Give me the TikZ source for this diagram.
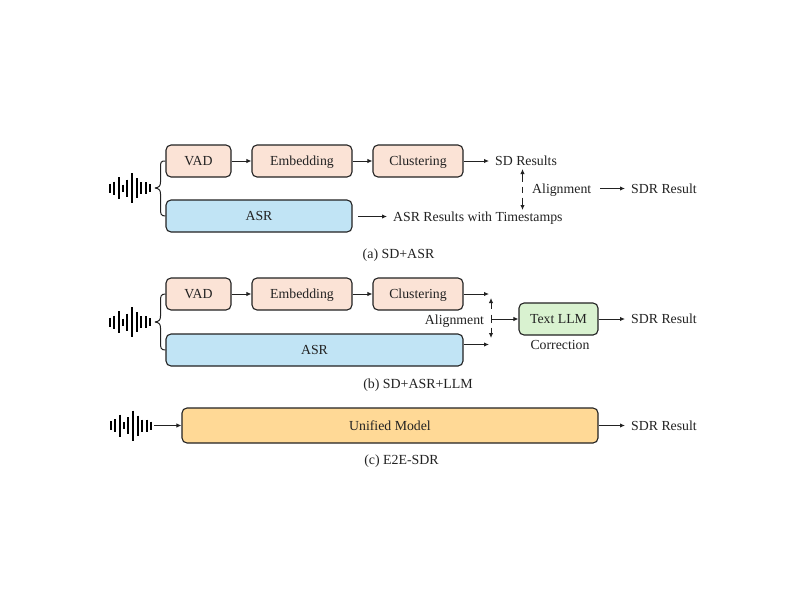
\documentclass[tikz,border=0pt]{standalone}
\usepackage{fontspec}
\setmainfont{Liberation Serif}
\usetikzlibrary{arrows.meta}
\definecolor{peach}{HTML}{FBE3D6}
\definecolor{skyb}{HTML}{C1E4F5}
\definecolor{lgreen}{HTML}{D9F2D0}
\definecolor{orng}{HTML}{FFD996}
\definecolor{ink}{HTML}{222222}
\tikzset{
  blk/.style={draw=ink,line width=1.1pt,rounded corners=5pt,inner sep=0pt,font=\fontsize{13.8}{15}\selectfont,text=ink,text height=10pt,text depth=0.4pt},
  pch/.style={blk,fill=peach,minimum height=32pt},
  sky/.style={blk,fill=skyb,minimum height=32pt},
  lbl/.style={inner sep=0pt,font=\fontsize{13.8}{15}\selectfont,text=ink,text height=10pt,text depth=0.4pt},
  captxt/.style={inner sep=0pt,font=\fontsize{13.9}{15}\selectfont,text=ink,text height=10pt,text depth=0.4pt},
  arr/.style={draw=ink,line width=1pt,-{Latex[length=5pt,width=4.5pt]}},
  arrtxt/.style={arr,shorten >=6pt},
  dbl/.style={draw=ink,line width=1pt,{Latex[length=5pt,width=4.5pt]}-{Latex[length=5pt,width=4.5pt]}},
  brc/.style={draw=ink,line width=1pt},
  bar/.style={draw=black,line width=2pt},
  wave/.pic={
    \foreach \x/\h in {0/4.5,4.3/6.5,8.6/11,13/3.5,17.3/8.5,22/15,26.5/10,31/6,35.5/6,40/4}
      \draw[bar] (\x,-\h) -- (\x,\h);
  }
}
\begin{document}
\begin{tikzpicture}[x=1pt,y=-1pt]
\useasboundingbox (0,0) rectangle (800,600);
\fill[white] (0,0) rectangle (800,600);

% (a)
\pic at (110,188) {wave};
\node[pch,minimum width=65pt] (vada) at (198.5,161) {VAD};
\node[pch,minimum width=100pt] (emba) at (302,161) {Embedding};
\node[pch,minimum width=90pt] (clua) at (418,161) {Clustering};
\node[sky,minimum width=186pt] (asra) at (259,216) {ASR};
\coordinate (tipa) at (155,188);
\coordinate (asrstarta) at (358,216.5);
\node[lbl,anchor=west] (sdres) at (495,161) {SD Results};
\node[lbl,anchor=west] (asrres) at (393,216.5) {ASR Results with Timestamps};
\node[lbl,anchor=west] (alia) at (532,188.5) {Alignment};
\node[lbl,anchor=west] (sdra) at (631,188.5) {SDR Result};
\node[captxt] (capa) at (398.5,254) {(a) SD+ASR};
\coordinate (ua) at (522.5,169);
\coordinate (da) at (522.5,210);
\draw[dbl,dash pattern=on 8pt off 5pt on 6pt off 5pt on 20pt] (ua) -- (da);
\draw[arr] (vada) -- (emba);
\draw[arr] (emba) -- (clua);
\draw[arrtxt] (clua) -- (sdres);
\draw[arrtxt] (asrstarta) -- (asrres);
\coordinate (alae) at (600,188.5);
\draw[arrtxt] (alae) -- (sdra);
\draw[brc] (vada.west) .. controls (161,161) and (160.5,162) .. (160.5,167) -- (160.5,182) .. controls (160.5,186) and (159,187.5) .. (tipa);
\draw[brc] (asra.west) .. controls (161,216) and (160.5,214) .. (160.5,209) -- (160.5,194) .. controls (160.5,190) and (159,188.5) .. (tipa);

% (b)
\pic at (110,322) {wave};
\node[pch,minimum width=65pt] (vadb) at (198.5,294) {VAD};
\node[pch,minimum width=100pt] (embb) at (302,294) {Embedding};
\node[pch,minimum width=90pt] (club) at (418,294) {Clustering};
\node[sky,minimum width=297pt] (asrb) at (314.5,350) {ASR};
\node[blk,fill=lgreen,minimum width=79pt,minimum height=32pt] (llm) at (558.5,319) {Text LLM};
\node[lbl] (alib) at (454.5,319.5) {Alignment};
\node[lbl] (corr) at (560,344.5) {Correction};
\node[lbl,anchor=west] (sdrb) at (631,319) {SDR Result};
\node[captxt] (capb) at (418,384) {(b) SD+ASR+LLM};
\coordinate (endc) at (489,294);
\coordinate (endr) at (489,344.5);
\coordinate (ub) at (491,298);
\coordinate (db) at (491,338);
\coordinate (jb) at (491,319);
\coordinate (tipb) at (155,322);
\draw[arr] (vadb) -- (embb);
\draw[arr] (embb) -- (club);
\draw[arr] (club.east |- endc) -- (endc);
\draw[arr] (asrb.east |- endr) -- (endr);
\draw[dbl,dash pattern=on 6pt off 6pt on 8pt off 5pt on 20pt] (ub) -- (db);
\draw[arr] (jb) -- (llm);
\draw[arrtxt] (llm) -- (sdrb);
\draw[brc] (vadb.west) .. controls (161,294) and (160.5,296) .. (160.5,301) -- (160.5,316) .. controls (160.5,320) and (159,321.5) .. (tipb);
\draw[brc] (asrb.west) .. controls (161,350) and (160.5,348) .. (160.5,343) -- (160.5,328) .. controls (160.5,324) and (159,322.5) .. (tipb);

% (c)
\pic at (111,425.5) {wave};
\coordinate (wc) at (154,425.5);
\node[blk,fill=orng,minimum width=416pt,minimum height=35pt] (uni) at (390,425.5) {Unified Model};
\node[lbl,anchor=west] (sdrc) at (631,425.5) {SDR Result};
\node[captxt] (capc) at (401.5,459.5) {(c) E2E-SDR};
\draw[arr] (wc) -- (uni);
\draw[arrtxt] (uni) -- (sdrc);
\end{tikzpicture}
\end{document}
